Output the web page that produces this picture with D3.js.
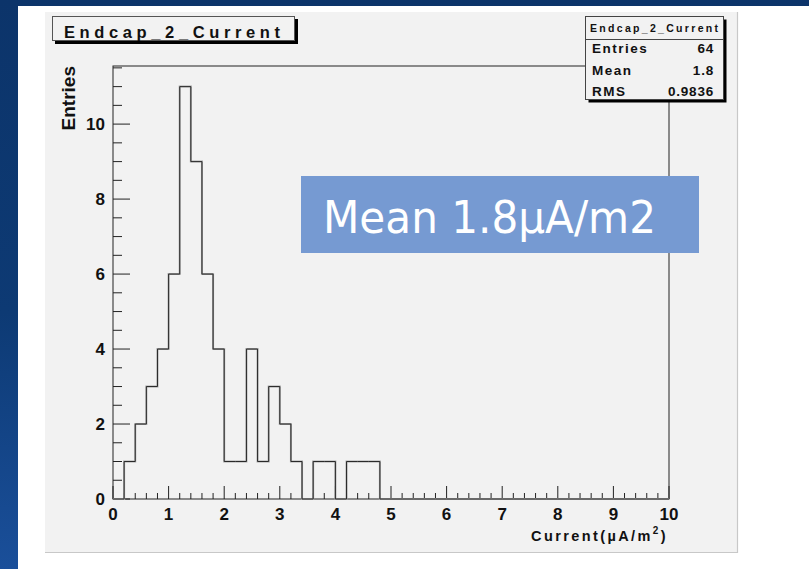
<!DOCTYPE html>
<html>
<head>
<meta charset="utf-8">
<script src="https://cdn.jsdelivr.net/npm/d3@7"></script>
<style>
  html, body { margin: 0; padding: 0; background: #fff; }
  svg { display: block; }
</style>
</head>
<body>
<svg id="chart" width="809" height="569"></svg>
<script>
// Histogram of endcap 2 current, 50 bins of 0.2 from 0 to 10
const histTitle = "Endcap_2_Current";
const xDomain = [0, 10];
const binWidth = 0.2;
const counts = [
  0, 1, 2, 3, 4, 6, 11, 9, 6, 4,
  1, 1, 4, 1, 3, 2, 1, 0, 1, 1,
  0, 1, 1, 1, 0, 0, 0, 0, 0, 0,
  0, 0, 0, 0, 0, 0, 0, 0, 0, 0,
  0, 0, 0, 0, 0, 0, 0, 0, 0, 0
];
const yMax = 11.55;
const xTicks = [0, 1, 2, 3, 4, 5, 6, 7, 8, 9, 10];
const yTicks = [0, 2, 4, 6, 8, 10];
const statsLabels = ["Entries", "Mean", "RMS"];
const statsValues = ["64", "1.8", "0.9836"];
const xTitle = "Current(µA/m";
const yTitle = "Entries";
const noteText = "Mean 1.8µA/m2";

const svg = d3.select("#chart");
const FONT = "'Liberation Sans', Arial, Helvetica, sans-serif";

// page background: blue frame on the top and left edges
const defs = svg.append("defs");
const grad = defs.append("linearGradient").attr("id", "bgblue")
  .attr("x1", 0).attr("y1", 0).attr("x2", 0).attr("y2", 1);
grad.append("stop").attr("offset", "0%").attr("stop-color", "#0c346a");
grad.append("stop").attr("offset", "55%").attr("stop-color", "#0d3a74");
grad.append("stop").attr("offset", "100%").attr("stop-color", "#1a4f9a");
svg.append("rect").attr("x", 0).attr("y", 0).attr("width", 809).attr("height", 569).attr("fill", "url(#bgblue)");
svg.append("rect").attr("x", 18).attr("y", 6).attr("width", 791).attr("height", 563).attr("fill", "#ffffff");

// canvas panel
svg.append("rect").attr("x", 45).attr("y", 12).attr("width", 692).attr("height", 540)
  .attr("fill", "#f2f2f2");
svg.append("path").attr("d", "M45,552.5H737.5V12").attr("fill", "none").attr("stroke", "#c8c8c8").attr("stroke-width", 1.2);

// plot frame
const frame = { left: 113, right: 669, top: 66, bottom: 499 };
const x = d3.scaleLinear().domain(xDomain).range([frame.left, frame.right]);
const y = d3.scaleLinear().domain([0, yMax]).range([frame.bottom, frame.top]);

svg.append("rect").attr("x", frame.left).attr("y", frame.top)
  .attr("width", frame.right - frame.left).attr("height", frame.bottom - frame.top)
  .attr("fill", "none").attr("stroke", "#222").attr("stroke-width", 1);

// x axis ticks: majors every 1, minors every 0.2
const xMinor = d3.range(0, 51).map(i => i * 0.2);
const gx = svg.append("g");
gx.selectAll("line").data(xMinor).join("line")
  .attr("x1", d => x(d)).attr("x2", d => x(d))
  .attr("y1", frame.bottom)
  .attr("y2", (d, i) => frame.bottom - (i % 5 === 0 ? 13 : 6))
  .attr("stroke", "#222").attr("stroke-width", 1);
gx.selectAll("text").data(xTicks).join("text")
  .attr("x", d => x(d)).attr("y", 520)
  .attr("text-anchor", "middle")
  .style("font-family", FONT)
  .style("font-weight", "bold").style("font-size", "17px")
  .attr("fill", "#111")
  .text(d => d);

// y axis ticks: majors every 2, minors every 0.5
const yMinor = d3.range(0, 24).map(i => i * 0.5);
const gy = svg.append("g");
gy.selectAll("line").data(yMinor).join("line")
  .attr("x1", frame.left)
  .attr("x2", (d, i) => frame.left + (i % 4 === 0 ? 17 : 9))
  .attr("y1", d => y(d)).attr("y2", d => y(d))
  .attr("stroke", "#222").attr("stroke-width", 1);
gy.selectAll("text").data(yTicks).join("text")
  .attr("x", 105).attr("y", d => y(d) + 6)
  .attr("text-anchor", "end")
  .style("font-family", FONT)
  .style("font-weight", "bold").style("font-size", "17px")
  .attr("fill", "#111")
  .text(d => d);

// histogram outline
const pts = [[0, 0]];
counts.forEach((c, i) => {
  pts.push([i * binWidth, c]);
  pts.push([(i + 1) * binWidth, c]);
});
pts.push([xDomain[1], 0]);
const line = d3.line().x(d => x(d[0])).y(d => y(d[1]));
svg.append("path").attr("d", line(pts))
  .attr("fill", "none").attr("stroke", "#a8a8a8").attr("stroke-width", 2);
svg.append("path").attr("d", line(pts))
  .attr("fill", "none").attr("stroke", "#2a2a2a").attr("stroke-width", 1);

// axis titles
const xt = svg.append("text")
  .attr("x", 668).attr("y", 541)
  .attr("text-anchor", "end")
  .style("font-family", FONT)
  .style("font-weight", "bold").style("font-size", "14.5px")
  .style("letter-spacing", "2.4px")
  .attr("fill", "#111");
xt.append("tspan").text(xTitle);
xt.append("tspan").attr("dy", -7).style("font-size", "10px").text("2");
xt.append("tspan").attr("dy", 7).text(")");

svg.append("text")
  .attr("transform", "translate(75,66) rotate(-90)")
  .attr("text-anchor", "end")
  .style("font-family", FONT)
  .style("font-weight", "bold").style("font-size", "19px")
  .attr("fill", "#111")
  .text(yTitle);

// title box with shadow
svg.append("rect").attr("x", 55).attr("y", 19).attr("width", 243).attr("height", 25).attr("fill", "#000");
svg.append("rect").attr("x", 52.5).attr("y", 16.5).attr("width", 242).attr("height", 24)
  .attr("fill", "#f2f2f2").attr("stroke", "#555").attr("stroke-width", 1);
svg.append("text")
  .attr("x", 64).attr("y", 38)
  .style("font-family", FONT)
  .style("font-weight", "bold").style("font-size", "16.5px")
  .attr("textLength", 216).attr("lengthAdjust", "spacing")
  .attr("fill", "#111")
  .text(histTitle);

// statistics box with shadow
const sx = 585.5, sy = 16.5, sw = 138, sh = 83;
svg.append("rect").attr("x", sx + 3).attr("y", sy + 3).attr("width", sw).attr("height", sh).attr("fill", "#000");
svg.append("rect").attr("x", sx).attr("y", sy).attr("width", sw).attr("height", sh)
  .attr("fill", "#f2f2f2").attr("stroke", "#444").attr("stroke-width", 1);
svg.append("line").attr("x1", sx).attr("x2", sx + sw).attr("y1", 39.5).attr("y2", 39.5)
  .attr("stroke", "#444").attr("stroke-width", 1);
svg.append("text")
  .attr("x", 590).attr("y", 32)
  .style("font-family", FONT)
  .style("font-weight", "bold").style("font-size", "10.5px")
  .attr("textLength", 128).attr("lengthAdjust", "spacing")
  .attr("fill", "#111")
  .text(histTitle);
const rowY = [53, 75, 96];
svg.append("g").selectAll("text").data(statsLabels).join("text")
  .attr("x", 592).attr("y", (d, i) => rowY[i])
  .style("font-family", FONT)
  .style("font-weight", "bold").style("font-size", "13.5px")
  .style("letter-spacing", "1.5px")
  .attr("fill", "#111")
  .text(d => d);
svg.append("g").selectAll("text").data(statsValues).join("text")
  .attr("x", 714).attr("y", (d, i) => rowY[i])
  .attr("text-anchor", "end")
  .style("font-family", FONT)
  .style("font-weight", "bold").style("font-size", "13.5px")
  .style("letter-spacing", "0.8px")
  .attr("fill", "#111")
  .text(d => d);

// annotation box
svg.append("rect").attr("x", 301).attr("y", 176).attr("width", 398).attr("height", 77)
  .attr("fill", "#769ad2");
svg.append("text")
  .attr("x", 323).attr("y", 233)
  .style("font-family", "'DejaVu Sans', Verdana, sans-serif")
  .style("font-size", "44px")
  .attr("textLength", 333).attr("lengthAdjust", "spacingAndGlyphs")
  .attr("fill", "#ffffff")
  .text(noteText);
</script>
</body>
</html>
